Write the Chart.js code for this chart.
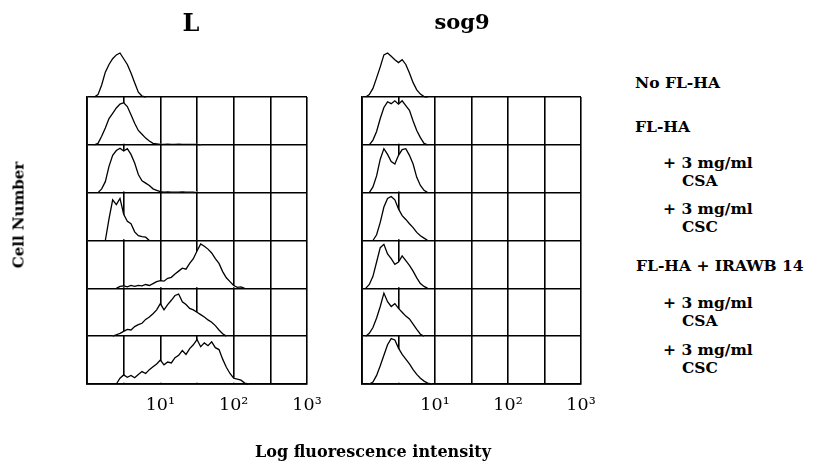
<!DOCTYPE html>
<html>
<head>
<meta charset="utf-8">
<script src="https://cdn.jsdelivr.net/npm/chart.js@4.4.0/dist/chart.umd.min.js"></script>
<style>
  body { margin: 0; background: #fff; width: 822px; height: 462px; position: relative; overflow: hidden;
         font-family: "DejaVu Serif", serif; font-weight: bold; color: #000; }
  canvas { position: absolute; top: 0; }
  #chartL { left: 0; }
  #chartS { left: 340px; }
  .lbl { position: absolute; white-space: nowrap; line-height: 1; font-size: 15.5px; }
  .title { position: absolute; white-space: nowrap; line-height: 1; transform: translateX(-50%); }
</style>
</head>
<body>
<canvas id="chartL" width="340" height="462"></canvas>
<canvas id="chartS" width="280" height="462"></canvas>

<div class="title" style="left:191px; top:11px; font-size:24px;">L</div>
<div class="title" style="left:462px; top:11px; font-size:21px;">sog9</div>

<div class="lbl" style="left:635px; top:75px;">No FL-HA</div>
<div class="lbl" style="left:635px; top:119px;">FL-HA</div>
<div class="lbl" style="left:663px; top:155px;">+ 3 mg/ml</div>
<div class="lbl" style="left:682px; top:173px;">CSA</div>
<div class="lbl" style="left:663px; top:201px;">+ 3 mg/ml</div>
<div class="lbl" style="left:682px; top:219px;">CSC</div>
<div class="lbl" style="left:636px; top:258px;">FL-HA + IRAWB 14</div>
<div class="lbl" style="left:663px; top:295px;">+ 3 mg/ml</div>
<div class="lbl" style="left:682px; top:313px;">CSA</div>
<div class="lbl" style="left:663px; top:342px;">+ 3 mg/ml</div>
<div class="lbl" style="left:682px; top:360px;">CSC</div>

<div class="lbl" style="left:19px; top:215px; font-size:15px; transform: translate(-50%, -50%) rotate(-90deg);">Cell Number</div>
<div class="title" style="left:373px; top:444px; font-size:16px;">Log fluorescence intensity</div>

<script>
// log10 of the fluorescence channel, shared by every histogram
const logBins = [0.00, 0.05, 0.10, 0.15, 0.20, 0.25, 0.30, 0.35, 0.40, 0.45,
                 0.50, 0.55, 0.60, 0.65, 0.70, 0.75, 0.80, 0.85, 0.90, 0.95,
                 1.00, 1.05, 1.10, 1.15, 1.20, 1.25, 1.30, 1.35, 1.40, 1.45,
                 1.50, 1.55, 1.60, 1.65, 1.70, 1.75, 1.80, 1.85, 1.90, 1.95,
                 2.00, 2.05, 2.10, 2.15, 2.20, 2.25];

// x axis ticks (half decades) and their labels
const tickValues = [1, 3.162, 10, 31.62, 100, 316.2, 1000];
const tickLabels = ['', '', '10\u00b9', '', '10\u00b2', '', '10\u00b3'];

// row baselines, top row (No FL-HA) sits above the boxes
const rowBases = [6, 5, 4, 3, 2, 1, 0];

// L cells, relative cell number per bin (fraction of a row)
const lNoFlHa = [null, null, 0, 0.05, 0.25, 0.52, 0.68, 0.80, 0.88, 0.92, 0.80, 0.68, 0.50, 0.30, 0.10, 0.02, 0];
const lFlHa = [null, null, 0, 0.03, 0.18, 0.35, 0.55, 0.66, 0.77, 0.85, 0.88, 0.80, 0.63, 0.45, 0.30, 0.22,
               0.14, 0.08, 0.03, 0.02, 0.01, 0.01, 0.015, 0.01, 0.01, 0.015, 0.01, 0.01, 0.01, 0.01, 0.01, 0];
const lCsa = [null, null, null, 0, 0.08, 0.23, 0.55, 0.78, 0.88, 0.93, 0.87, 0.92, 0.80, 0.62, 0.38, 0.25,
              0.20, 0.15, 0.08, 0.05, 0.02, 0.01, 0.015, 0.01, 0.01, 0.01, 0.015, 0.01, 0.01, 0.01, 0];
const lCsc = [null, null, null, null, null, 0, 0.45, 0.85, 0.75, 0.88, 0.55, 0.40, 0.35, 0.18, 0.10, 0.08, 0.07, 0];
const lIrawb = [null, null, null, null, null, null, null, null,
                0, 0.04, 0.05, 0.03, 0.06, 0.04, 0.06, 0.05, 0.08, 0.06, 0.10, 0.14, 0.16, 0.15, 0.21, 0.23,
                0.30, 0.36, 0.42, 0.40, 0.52, 0.62, 0.78, 0.93, 0.88, 0.82, 0.74, 0.62, 0.52, 0.35, 0.22,
                0.14, 0.06, 0.02, 0.03, 0];
const lIrawbCsa = [null, null, null, null, null, null, null,
                   0, 0.03, 0.06, 0.10, 0.14, 0.13, 0.20, 0.24, 0.27, 0.35, 0.40, 0.47, 0.55, 0.68, 0.55,
                   0.66, 0.75, 0.85, 0.88, 0.72, 0.66, 0.58, 0.55, 0.50, 0.45, 0.40, 0.34, 0.29, 0.22, 0.13, 0.05, 0];
const lIrawbCsc = [null, null, null, null, null, null, null, null,
                   0, 0.12, 0.19, 0.14, 0.18, 0.13, 0.20, 0.26, 0.22, 0.30, 0.36, 0.42, 0.50, 0.40, 0.46,
                   0.44, 0.55, 0.60, 0.70, 0.62, 0.74, 0.82, 0.93, 0.78, 0.86, 0.80, 0.88, 0.76, 0.72, 0.52,
                   0.35, 0.22, 0.12, 0.10, 0.08, 0.02, 0];

// sog9 cells
const sNoFlHa = [null, 0, 0.05, 0.18, 0.40, 0.63, 0.88, 0.92, 0.85, 0.78, 0.72, 0.78, 0.68, 0.50, 0.30, 0.15, 0.06, 0.01, 0];
const sFlHa = [null, null, 0, 0.10, 0.28, 0.55, 0.78, 0.90, 0.86, 0.92, 0.85, 0.92, 0.82, 0.72, 0.50, 0.30, 0.15, 0.03, 0];
const sCsa = [null, null, 0, 0.12, 0.35, 0.70, 0.92, 0.80, 0.65, 0.60, 0.78, 0.90, 0.92, 0.78, 0.60, 0.32, 0.15, 0.05, 0];
const sCsc = [null, null, null, 0, 0.12, 0.38, 0.70, 0.88, 0.92, 0.85, 0.66, 0.52, 0.44, 0.35, 0.27, 0.17, 0.10, 0.05, 0];
const sIrawb = [null, 0, 0.08, 0.25, 0.55, 0.85, 0.92, 0.72, 0.62, 0.50, 0.55, 0.68, 0.58, 0.48, 0.36, 0.22, 0.10, 0.04, 0];
const sIrawbCsa = [null, 0, 0.06, 0.18, 0.38, 0.62, 0.90, 0.72, 0.62, 0.68, 0.58, 0.50, 0.42, 0.36, 0.25, 0.14, 0.04, 0];
const sIrawbCsc = [null, null, 0, 0.04, 0.18, 0.38, 0.60, 0.82, 0.95, 0.92, 0.75, 0.62, 0.52, 0.42, 0.30, 0.20, 0.12, 0.06, 0.02, 0];

const lSeries = [lNoFlHa, lFlHa, lCsa, lCsc, lIrawb, lIrawbCsa, lIrawbCsc];
const sSeries = [sNoFlHa, sFlHa, sCsa, sCsc, sIrawb, sIrawbCsa, sIrawbCsc];

// one histogram per row, white fill hides the grid under the curve
function histDataset(counts, row) {
  const base = rowBases[row];
  const pts = [];
  counts.forEach((c, i) => {
    if (c !== null) pts.push({ x: Math.pow(10, logBins[i]), y: base + c });
  });
  return {
    data: pts,
    borderColor: '#000',
    borderWidth: 1.3,
    backgroundColor: '#fff',
    fill: { value: base + 0.025 },
    pointRadius: 0,
    tension: 0,
    clip: false
  };
}

function makePanel(id, series, padLeft, padRight) {
  const ctx = document.getElementById(id).getContext('2d');
  return new Chart(ctx, {
    type: 'line',
    data: { datasets: series.map(histDataset) },
    options: {
      responsive: false,
      animation: false,
      events: [],
      layout: { autoPadding: false, padding: { left: padLeft, right: padRight, top: 97, bottom: 48 } },
      plugins: { legend: { display: false }, tooltip: { enabled: false } },
      scales: {
        x: {
          type: 'logarithmic',
          min: 1,
          max: 1000,
          afterBuildTicks: (scale) => { scale.ticks = tickValues.map(v => ({ value: v })); },
          afterFit: (scale) => { scale.height = 30; },
          ticks: {
            autoSkip: false,
            maxRotation: 0,
            padding: 11,
            color: '#000',
            font: { family: 'DejaVu Serif', size: 17.5 },
            callback: (value, index) => tickLabels[index]
          },
          grid: { color: '#000', lineWidth: 1.6, drawTicks: false },
          border: { color: '#000', width: 1.8 }
        },
        y: {
          type: 'linear',
          min: 0,
          max: 6,
          afterFit: (scale) => { scale.width = 0; },
          ticks: { stepSize: 1, display: false },
          grid: { color: '#000', lineWidth: 1.6, drawTicks: false },
          border: { color: '#000', width: 1.8 }
        }
      }
    }
  });
}

makePanel('chartL', lSeries, 87, 33);
makePanel('chartS', sSeries, 22, 39);
</script>
</body>
</html>
